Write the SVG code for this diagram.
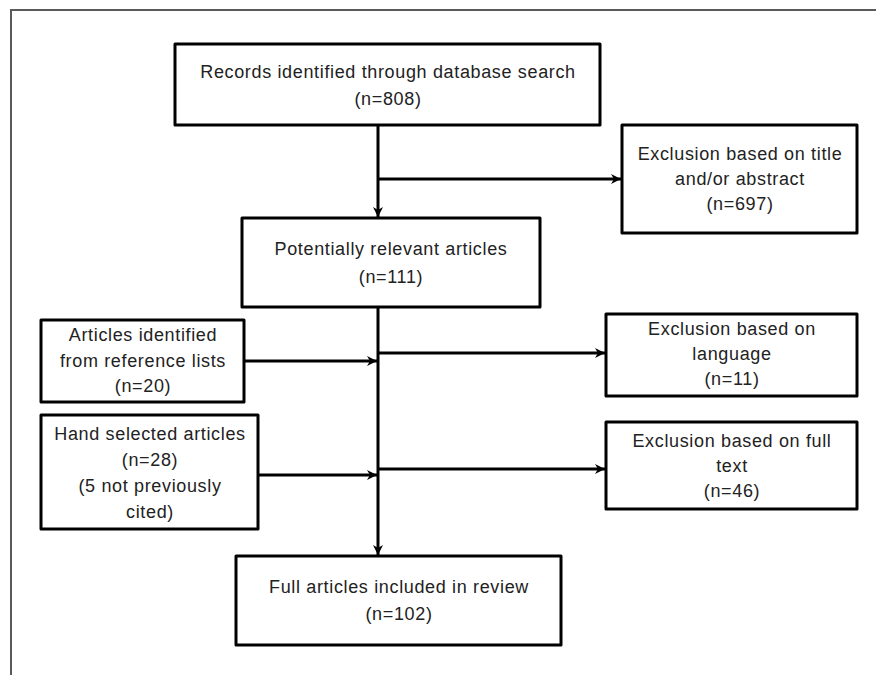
<svg xmlns="http://www.w3.org/2000/svg" width="876" height="675" viewBox="0 0 876 675">
<style>
.box{fill:#fff;stroke:#000;stroke-width:3;stroke-linejoin:round}
.t{font-family:"Liberation Sans",Arial,sans-serif;font-size:18px;letter-spacing:0.65px;fill:#222;text-anchor:middle}
.c{fill:none;stroke:#000;stroke-width:3}
.frame{fill:none;stroke:#5a5a5a;stroke-width:2}
</style>
<defs>
<marker id="ah" markerUnits="userSpaceOnUse" markerWidth="12" markerHeight="12" viewBox="0 0 12 12" refX="11" refY="6" orient="auto">
<path d="M1,1 L11,6 L1,11 L4,6 z" fill="#000"/>
</marker>
</defs>
<path class="frame" d="M11,675 L11,10 L876,10"/>
<g id="connectors">
<line class="c" x1="378" y1="126" x2="378" y2="217" marker-end="url(#ah)"/>
<line class="c" x1="378" y1="179" x2="621" y2="179" marker-end="url(#ah)"/>
<line class="c" x1="378" y1="308" x2="378" y2="555" marker-end="url(#ah)"/>
<line class="c" x1="378" y1="353" x2="605" y2="353" marker-end="url(#ah)"/>
<line class="c" x1="378" y1="469" x2="605" y2="469" marker-end="url(#ah)"/>
<line class="c" x1="245" y1="361" x2="377" y2="361" marker-end="url(#ah)"/>
<line class="c" x1="259" y1="475" x2="377" y2="475" marker-end="url(#ah)"/>
</g>
<g id="records">
<rect class="box" x="175" y="44" width="425" height="81"/>
<text class="t" x="388" y="78">Records identified through database search</text>
<text class="t" x="388" y="105">(n=808)</text>
</g>
<g id="excl-title">
<rect class="box" x="622" y="125" width="235" height="108"/>
<text class="t" x="740" y="160">Exclusion based on title</text>
<text class="t" x="740" y="185">and/or abstract</text>
<text class="t" x="740" y="210">(n=697)</text>
</g>
<g id="potential">
<rect class="box" x="242" y="218" width="298" height="89"/>
<text class="t" x="391" y="255">Potentially relevant articles</text>
<text class="t" x="391" y="283">(n=111)</text>
</g>
<g id="reflists">
<rect class="box" x="41" y="320" width="203" height="82"/>
<text class="t" x="143" y="341">Articles identified</text>
<text class="t" x="143" y="367">from reference lists</text>
<text class="t" x="143" y="392">(n=20)</text>
</g>
<g id="excl-lang">
<rect class="box" x="606" y="314" width="251" height="82"/>
<text class="t" x="732" y="335">Exclusion based on</text>
<text class="t" x="732" y="360">language</text>
<text class="t" x="732" y="385">(n=11)</text>
</g>
<g id="hand">
<rect class="box" x="41" y="415" width="217" height="114"/>
<text class="t" x="150" y="440">Hand selected articles</text>
<text class="t" x="150" y="466">(n=28)</text>
<text class="t" x="150" y="492">(5 not previously</text>
<text class="t" x="150" y="518">cited)</text>
</g>
<g id="excl-full">
<rect class="box" x="606" y="422" width="251" height="87"/>
<text class="t" x="732" y="447">Exclusion based on full</text>
<text class="t" x="732" y="472">text</text>
<text class="t" x="732" y="497">(n=46)</text>
</g>
<g id="included">
<rect class="box" x="236" y="556" width="325" height="89"/>
<text class="t" x="399" y="593">Full articles included in review</text>
<text class="t" x="399" y="620">(n=102)</text>
</g>
</svg>
